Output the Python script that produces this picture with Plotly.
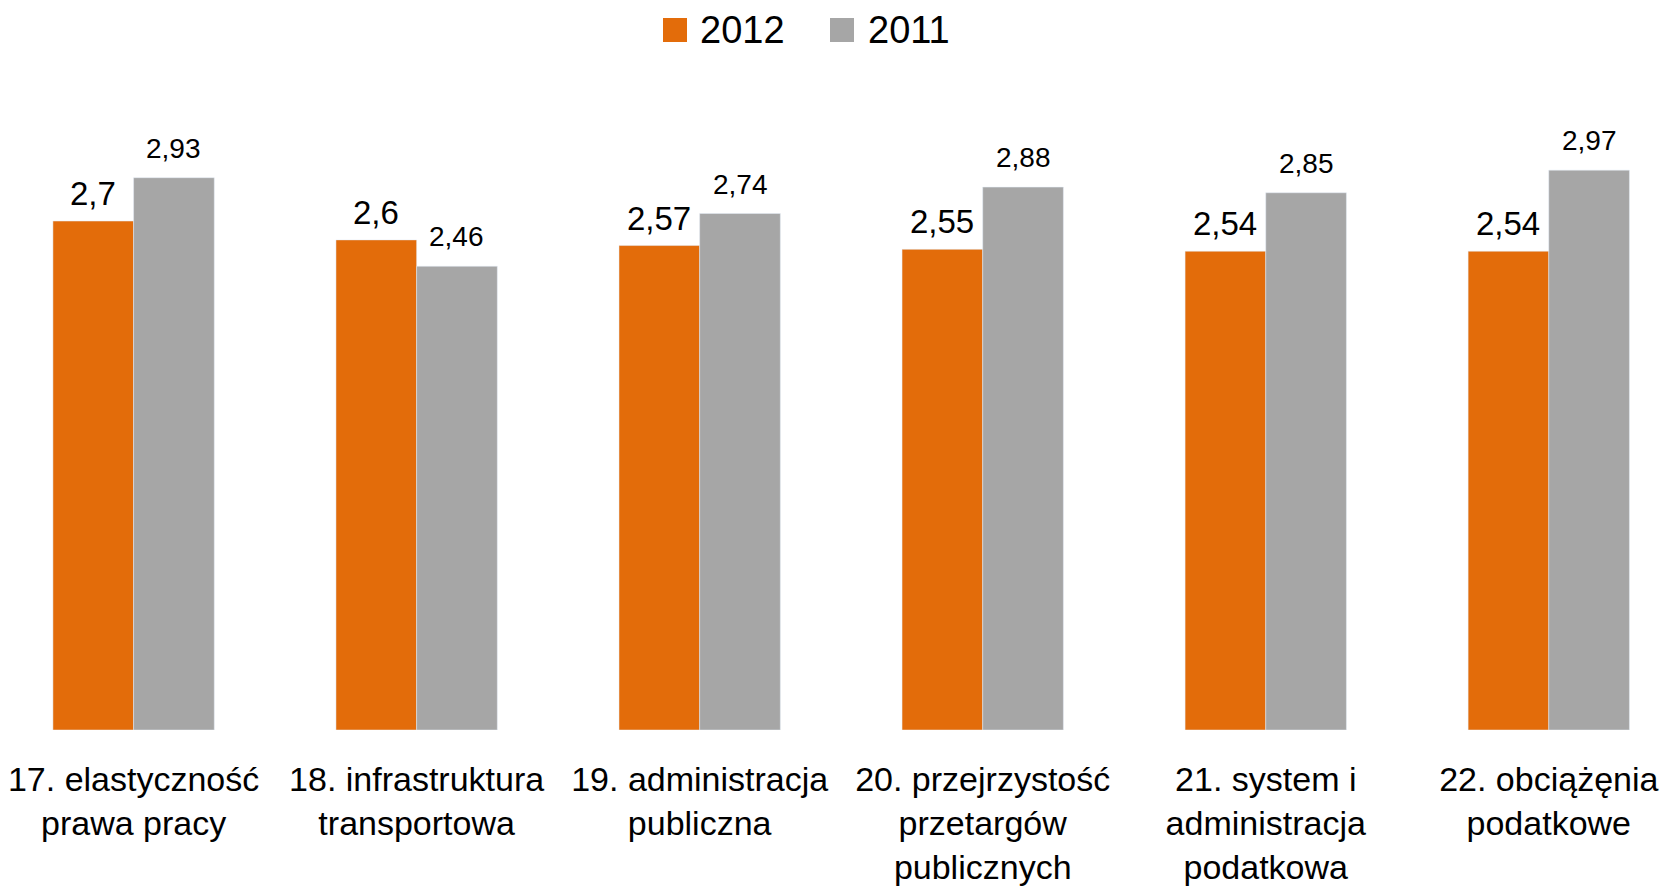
import plotly.graph_objects as go

categories = [
    "17. elastyczność<br>prawa pracy",
    "18. infrastruktura<br>transportowa",
    "19. administracja<br>publiczna",
    "20. przejrzystość<br>przetargów<br>publicznych",
    "21. system i<br>administracja<br>podatkowa",
    "22. obciążęnia<br>podatkowe",
]
values_2012 = [2.70, 2.60, 2.57, 2.55, 2.54, 2.54]
values_2011 = [2.93, 2.46, 2.74, 2.88, 2.85, 2.97]
series_names = ["2012", "2011"]
colors = ["#E36C0A", "#A6A6A6"]

W, H = 1662, 889
T, B = 100, 159
PH = H - T - B
FONT = "Liberation Sans, Arial, sans-serif"

x = list(range(len(categories)))
bargap = 0.43
bw = (1 - bargap) / 2

fig = go.Figure()
fig.add_trace(go.Bar(x=x, y=values_2012, name=series_names[0], marker_color=colors[0], showlegend=False))
fig.add_trace(go.Bar(x=x, y=values_2011, name=series_names[1], marker_color=colors[1], showlegend=False))

def fmt(v):
    s = ("%.2f" % v).rstrip("0").rstrip(".")
    return s.replace(".", ",")

annotations = []
for i, v in enumerate(values_2012):
    annotations.append(dict(x=i - bw / 2, y=v, xref="x", yref="y", text=fmt(v), showarrow=False,
                            yanchor="bottom", yshift=7, font=dict(size=33, color="#000", family=FONT)))
for i, v in enumerate(values_2011):
    annotations.append(dict(x=i + bw / 2, y=v, xref="x", yref="y", text=fmt(v), showarrow=False,
                            yanchor="bottom", yshift=12, font=dict(size=28, color="#000", family=FONT)))

def px_x(p):
    return p / W

def px_y(p):
    return (H - B - p) / PH

shapes = []
legend_items = [(663, 698), (830, 866)]
for (sx, tx), name, col in zip(legend_items, series_names, colors):
    shapes.append(dict(type="rect", xref="paper", yref="paper", x0=px_x(sx), x1=px_x(sx + 24),
                       y0=px_y(42), y1=px_y(18), fillcolor=col, line=dict(width=0)))
    annotations.append(dict(x=px_x(tx), y=px_y(30), xref="paper", yref="paper", text=name, showarrow=False,
                            xanchor="left", yanchor="middle", font=dict(size=38, color="#000", family=FONT)))

fig.update_layout(
    width=W, height=H,
    margin=dict(l=0, r=0, t=T, b=B, pad=0),
    paper_bgcolor="white", plot_bgcolor="white",
    barmode="group", bargap=bargap, bargroupgap=0,
    showlegend=False,
    annotations=annotations, shapes=shapes,
    font=dict(family=FONT, color="#000"),
)
fig.update_xaxes(range=[-0.472, 5.400], tickvals=x, ticktext=categories, showgrid=False, zeroline=False,
                 showline=False, ticks="", tickfont=dict(size=34, family=FONT, color="#000"),
                 ticklabelstandoff=26, ticklabeloverflow="allow", fixedrange=True)
fig.update_yaxes(range=[0, PH / 188.5], visible=False, showgrid=False, zeroline=False, fixedrange=True)

fig.write_html("out.html", config={"displayModeBar": False},
               post_script="document.body.style.margin='0';document.body.style.overflow='hidden';")
